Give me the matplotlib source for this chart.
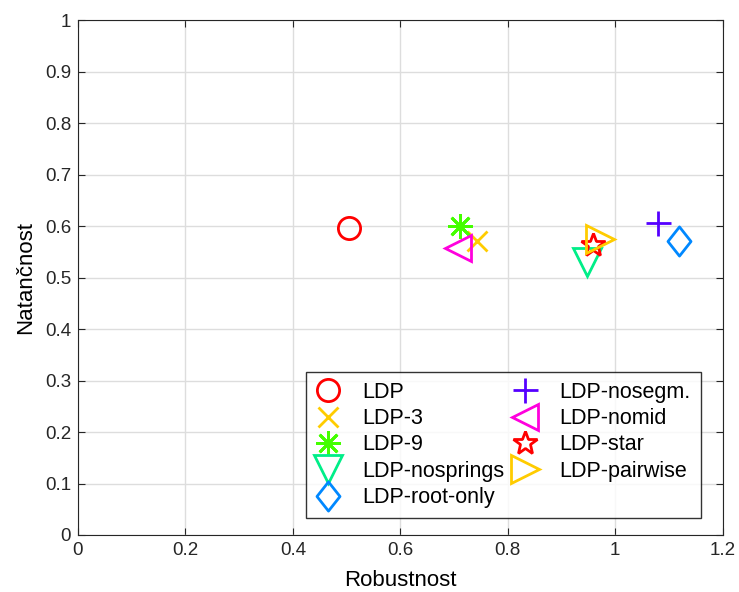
import matplotlib.pyplot as plt
from matplotlib.path import Path

plt.rcParams["font.family"] = ["Liberation Sans", "DejaVu Sans"]

methods = ["LDP", "LDP-3", "LDP-9", "LDP-nosprings", "LDP-root-only",
           "LDP-nosegm.", "LDP-nomid", "LDP-star", "LDP-pairwise"]
robustnost = [0.504, 0.742, 0.711, 0.947, 1.118, 1.079, 0.707, 0.958, 0.971]
natancnost = [0.597, 0.571, 0.600, 0.530, 0.571, 0.606, 0.557, 0.563, 0.575]

# MATLAB-like tall diamond
diamond = Path([(0, 1), (0.79, 0), (0, -1), (-0.79, 0), (0, 1)],
               [Path.MOVETO, Path.LINETO, Path.LINETO, Path.LINETO, Path.CLOSEPOLY])

markers = ["o", "x", (8, 2, 0), "v", diamond, "+", "<", "*", ">"]
colors = ["#ff0000", "#ffcc00", "#44ff00", "#00ee88", "#0088ff",
          "#5500ff", "#ff00dd", "#ff0000", "#ffcc00"]
sizes = [16, 14, 18, 20, 21, 18, 19, 18, 20]

fig = plt.figure(figsize=(7.39, 5.92), dpi=100)
ax = fig.add_axes([0.1055, 0.0963, 0.8725, 0.8697])

for name, x, y, m, c, s in zip(methods, robustnost, natancnost, markers, colors, sizes):
    ax.plot([x], [y], linestyle="none", marker=m, markersize=s,
            markerfacecolor="none", markeredgecolor=c, markeredgewidth=2,
            label=name)

ax.set_xlim(0, 1.2)
ax.set_ylim(0, 1)
ax.set_xticks([0, 0.2, 0.4, 0.6, 0.8, 1, 1.2])
ax.set_xticklabels(["0", "0.2", "0.4", "0.6", "0.8", "1", "1.2"])
ax.set_yticks([i / 10 for i in range(11)])
ax.set_yticklabels(["0"] + [f"{i / 10:.1f}" for i in range(1, 10)] + ["1"])
ax.grid(True, color="#dddddd", linewidth=1)
ax.set_axisbelow(True)
ax.tick_params(direction="in", top=True, right=True, labelsize=13.5, length=5,
               color="#262626", labelcolor="#262626", pad=5)
for sp in ax.spines.values():
    sp.set_color("#262626")
ax.set_xlabel("Robustnost", fontsize=16, color="black", labelpad=8)
ax.set_ylabel("Natančnost", fontsize=16, color="black", labelpad=6)

leg = ax.legend(ncol=2, loc="upper left", bbox_to_anchor=(0.353, 0.3165),
                fontsize=15.5, frameon=True, fancybox=False,
                handletextpad=1.0, labelspacing=0.25, borderaxespad=0,
                columnspacing=0.35, handlelength=1.2, borderpad=0.45)
leg.get_frame().set_edgecolor("black")
leg.get_frame().set_linewidth(1)

fig.savefig("out.png", dpi=100)
